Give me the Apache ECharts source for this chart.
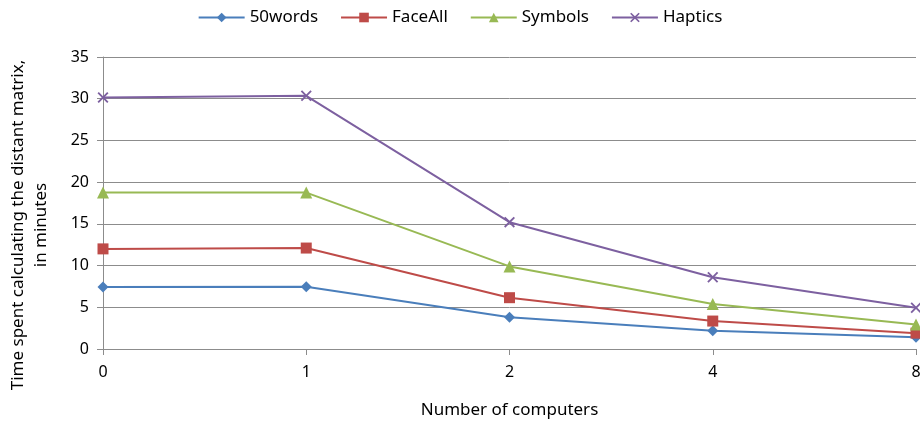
<!DOCTYPE html>
<html><head><meta charset="utf-8">
<script src="https://cdn.jsdelivr.net/npm/echarts@6/dist/echarts.min.js"></script>
<style>html,body{margin:0;padding:0;background:#fff}#c{width:920px;height:423px}</style>
</head><body><div id="c"></div>
<script>
const categories = ['0', '1', '2', '4', '8'];
const words50 = [7.43, 7.47, 3.8, 2.2, 1.4];
const faceAll = [12.0, 12.1, 6.15, 3.35, 1.9];
const symbols = [18.75, 18.75, 9.9, 5.4, 2.95];
const haptics = [30.15, 30.35, 15.2, 8.6, 4.95];
const seriesNames = ['50words', 'FaceAll', 'Symbols', 'Haptics'];
const colors = ['#4A7EBB', '#BE4B48', '#98B954', '#7D60A0'];
const yTicks = { min: 0, max: 35, interval: 5 };
const yTitle = 'Time spent calculating the distant matrix,\nin minutes';
const xTitle = 'Number of computers';

const FONT = 'Noto Sans, sans-serif';
const xPath = 'path://M0,1.2L1.2,0L5,3.8L8.8,0L10,1.2L6.2,5L10,8.8L8.8,10L5,6.2L1.2,10L0,8.8L3.8,5Z';
const symbolsList = ['diamond', 'rect', 'triangle', xPath];
const sizes = [11, 11, 12, 11];
const data = [words50, faceAll, symbols, haptics];

const chart = echarts.init(document.getElementById('c'));
chart.setOption({
  animation: false,
  color: colors,
  textStyle: { fontFamily: FONT },
  legend: {
    top: 4, left: 'center', itemWidth: 46, itemHeight: 12, itemGap: 22,
    textStyle: { fontSize: 17, color: '#000', fontFamily: FONT },
    data: seriesNames
  },
  grid: { left: 103, right: 4, top: 57, bottom: 74, outerBoundsMode: 'none', containLabel: false },
  graphic: [{
    type: 'text', x: 30, y: 225, rotation: Math.PI / 2,
    style: { text: yTitle, fontSize: 17, lineHeight: 23, fill: '#000', fontFamily: FONT,
      align: 'center', verticalAlign: 'middle' }
  }],
  xAxis: {
    type: 'category', data: categories, boundaryGap: false,
    name: xTitle, nameLocation: 'middle', nameGap: 53,
    nameTextStyle: { fontSize: 17, color: '#000', fontFamily: FONT },
    axisLine: { lineStyle: { color: '#8c8c8c', width: 1 } },
    axisTick: { show: true, alignWithLabel: true, length: 6, lineStyle: { color: '#8c8c8c' } },
    axisLabel: { fontSize: 16, color: '#000', margin: 15, fontFamily: FONT }
  },
  yAxis: {
    type: 'value', min: yTicks.min, max: yTicks.max, interval: yTicks.interval,
    axisLine: { show: true, lineStyle: { color: '#8c8c8c' } },
    axisTick: { show: true, length: 6, lineStyle: { color: '#8c8c8c' } },
    axisLabel: { fontSize: 16, color: '#000', margin: 14, fontFamily: FONT },
    splitLine: { lineStyle: { color: '#8c8c8c', width: 1 } }
  },
  series: seriesNames.map((n, i) => ({
    name: n, type: 'line', data: data[i],
    smooth: false,
    symbol: symbolsList[i], symbolSize: sizes[i],
    lineStyle: { width: 2, color: colors[i] },
    itemStyle: { color: colors[i] }
  }))
});
</script></body></html>
